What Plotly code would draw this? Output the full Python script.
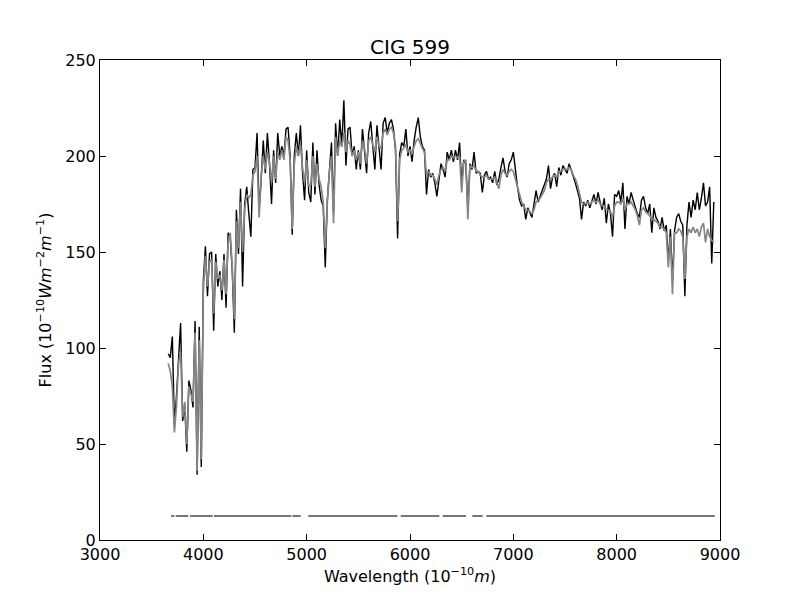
import plotly.graph_objects as go

# Wavelength grid (Angstrom), 20 A sampling
wave = list(range(3660, 8941, 20))

# Observed flux (black)
flux_obs = [
    97, 95, 106, 60, 75, 95, 113, 62, 70, 46, 83, 78, 69, 114, 34, 111, 38, 135, 153, 127,
    149, 150, 109, 149, 132, 140, 125, 149, 121, 160, 158, 140, 108, 172, 149, 183, 132, 175, 184, 170,
    158, 193, 194, 212, 172, 188, 208, 191, 212, 196, 175, 203, 186, 212, 200, 205, 200, 214, 215, 200,
    159, 200, 212, 200, 216, 191, 177, 203, 181, 176, 207, 180, 203, 185, 177, 174, 142, 177, 190, 207,
    170, 217, 200, 219, 205, 229, 195, 214, 215, 200, 205, 193, 203, 193, 214, 200, 191, 212, 218, 205,
    193, 216, 204, 193, 217, 220, 212, 217, 219, 214, 203, 157, 201, 207, 205, 214, 200, 205, 197, 208,
    215, 220, 210, 205, 203, 180, 193, 189, 191, 186, 179, 189, 196, 193, 189, 202, 198, 203, 197, 203,
    198, 207, 185, 198, 196, 172, 196, 193, 202, 191, 192, 191, 181, 190, 192, 188, 189, 186, 192, 185,
    188, 194, 199, 192, 189, 196, 198, 202, 191, 184, 177, 174, 175, 167, 173, 170, 168, 175, 182, 176,
    179, 181, 184, 188, 195, 183, 189, 191, 184, 194, 190, 195, 193, 191, 196, 193, 189, 186, 182, 178,
    167, 176, 174, 177, 173, 176, 180, 175, 181, 176, 172, 178, 165, 175, 170, 158, 180, 179, 182, 176,
    186, 162, 179, 175, 181, 177, 173, 170, 168, 177, 179, 173, 170, 175, 160, 173, 168, 166, 162, 168,
    161, 164, 145, 162, 135, 161, 168, 170, 166, 164, 127, 164, 176, 168, 177, 172, 181, 172, 178, 186,
    174, 176, 184, 144, 176,
]

# Model (synthetic) flux (grey)
flux_model = [
    92, 88, 80, 56, 70, 92, 98, 64, 72, 50, 80, 76, 72, 108, 36, 104, 42, 130, 148, 132,
    145, 146, 118, 145, 136, 138, 130, 146, 128, 155, 160, 142, 115, 166, 152, 176, 150, 172, 180, 178,
    180, 190, 192, 200, 168, 190, 200, 193, 202, 197, 186, 200, 188, 202, 198, 203, 198, 210, 208, 198,
    162, 196, 205, 200, 206, 194, 186, 198, 184, 185, 200, 184, 196, 188, 184, 176, 152, 176, 192, 200,
    165, 210, 200, 208, 205, 212, 202, 208, 206, 200, 203, 198, 202, 196, 208, 204, 196, 208, 210, 206,
    202, 210, 205, 204, 212, 214, 211, 214, 215, 212, 205, 166, 198, 203, 204, 206, 202, 203, 201, 205,
    208, 209, 206, 204, 202, 190, 192, 190, 190, 188, 185, 190, 193, 194, 192, 198, 198, 200, 199, 200,
    199, 200, 181, 197, 198, 167, 195, 194, 195, 192, 192, 190, 189, 189, 190, 188, 188, 188, 189, 186,
    183, 190, 193, 191, 190, 192, 193, 192, 188, 185, 180, 176, 174, 172, 172, 171, 170, 172, 176, 177,
    178, 180, 182, 186, 188, 188, 189, 190, 189, 192, 192, 193, 193, 193, 194, 193, 190, 188, 185, 180,
    176, 175, 175, 176, 175, 176, 177, 176, 177, 175, 174, 174, 172, 172, 171, 168, 174, 176, 176, 175,
    178, 172, 175, 175, 176, 174, 172, 169, 164, 172, 173, 171, 170, 169, 167, 167, 166, 165, 163, 163,
    162, 160, 142, 158, 128, 160, 160, 162, 161, 158, 136, 158, 162, 160, 163, 160, 162, 158, 163, 165,
    155, 162, 158, 156, 155,
]

# Fitted (unmasked) wavelength windows shown as a horizontal bar
mask_start = [3687, 3733, 3871, 4103, 4862, 5016, 5910, 6316, 6603, 6739]
mask_end = [3721, 3855, 4091, 4850, 4942, 5878, 6284, 6542, 6703, 8950]
mask_level = 12.5

mx, my = [], []
for s, e in zip(mask_start, mask_end):
    mx += [s, e, None]
    my += [mask_level, mask_level, None]

fig = go.Figure()
fig.add_trace(go.Scatter(x=wave, y=flux_obs, mode="lines",
                         line=dict(color="black", width=1.4), showlegend=False))
fig.add_trace(go.Scatter(x=wave, y=flux_model, mode="lines",
                         line=dict(color="#858585", width=1.7), showlegend=False))
fig.add_trace(go.Scatter(x=mx, y=my, mode="lines",
                         line=dict(color="#6b7b85", width=2), showlegend=False))

font = "DejaVu Sans, Arial, sans-serif"
axis_common = dict(showline=True, linecolor="black", linewidth=1, mirror="ticks",
                   ticks="inside", ticklen=6, tickcolor="black", tickwidth=1,
                   showgrid=False, zeroline=False, automargin=False,
                   tickfont=dict(family=font, size=16, color="black"))

# The page body adds an 8 px offset, so the figure is 792x592 with margins trimmed
fig.update_layout(
    width=792, height=592,
    margin=dict(l=92, r=80, t=52, b=60, autoexpand=False),
    paper_bgcolor="white", plot_bgcolor="white",
    title=dict(text="CIG 599", x=0.5, xref="paper", xanchor="center",
               y=1 - 39 / 592, yref="container", yanchor="middle",
               automargin=False,
               font=dict(family=font, size=20, color="black")),
    xaxis=dict(range=[3000, 9000], tickvals=[3000, 4000, 5000, 6000, 7000, 8000, 9000],
               title=dict(text="Wavelength (10<sup>−10</sup><i>m</i>)", standoff=7,
                          font=dict(family=font, size=16, color="black")),
               **axis_common),
    yaxis=dict(range=[0, 250], tickvals=[0, 50, 100, 150, 200, 250],
               title=dict(text="Flux (10<sup>−10</sup><i>Wm</i><sup>−2</sup><i>m</i><sup>−1</sup>)",
                          standoff=9, font=dict(family=font, size=16, color="black")),
               **axis_common),
)

fig.write_html("out.html")
